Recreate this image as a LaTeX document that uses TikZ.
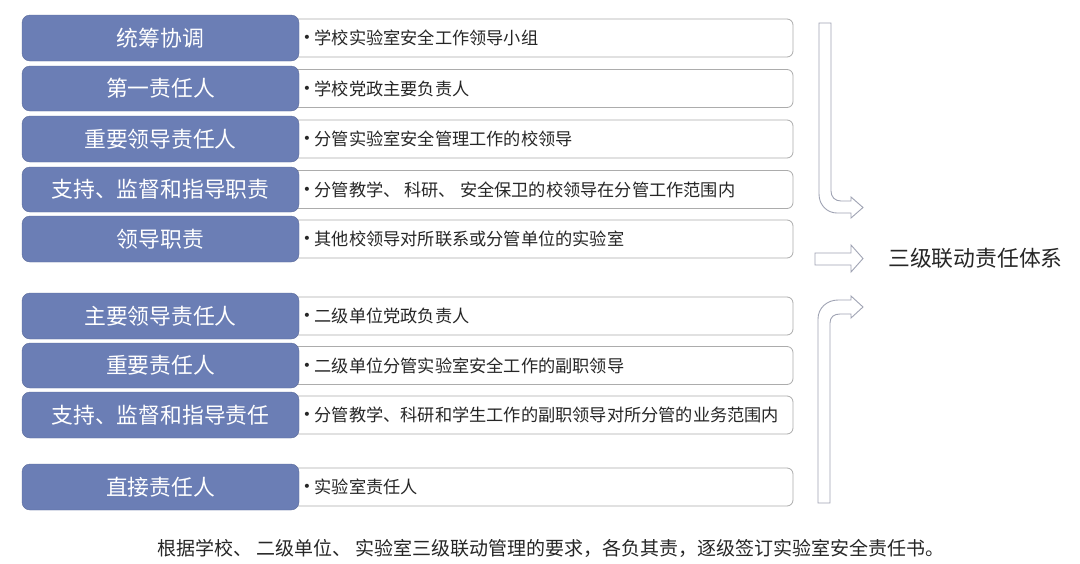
\documentclass[tikz,border=0pt]{standalone}
\usepackage{fontspec}
\setmainfont{Noto Sans CJK SC}
\newfontfamily\bulfont{DejaVu Sans}
\begin{document}
\begin{tikzpicture}[x=1pt,y=-1pt,
  bluebox/.style={fill=boxblue,draw=boxblue!85!black,line width=0.4pt,rounded corners=8pt,text=white,font=\fontsize{21.8}{21.8}\selectfont},
  whitebox/.style={fill=white,draw=gray!65,line width=0.8pt,rounded corners=6pt},
  desc/.style={anchor=west,font=\fontsize{17.2}{17.2}\selectfont,text=black!85,inner sep=0pt},
  bul/.style={font=\bulfont\fontsize{14}{14}\selectfont,text=black!85,inner sep=0pt},
  arrowshape/.style={draw=arrowgray,fill=white,line width=0.9pt,line join=miter}]
\definecolor{boxblue}{RGB}{107,126,181}
\definecolor{arrowgray}{RGB}{160,164,180}
\useasboundingbox (0,0) rectangle (1080,563);
\fill[white] (0,0) rectangle (1080,563);

\foreach \name/\top/\bot/\lab/\txt in {
  r1/15/61/统筹协调/学校实验室安全工作领导小组,
  r2/66/111/第一责任人/学校党政主要负责人,
  r3/116/162/重要领导责任人/分管实验室安全管理工作的校领导,
  r4/167/212/支持、监督和指导职责/{分管教学、\ 科研、\ 安全保卫的校领导在分管工作范围内},
  r5/216/262/领导职责/其他校领导对所联系或分管单位的实验室,
  r6/293/339/主要领导责任人/二级单位党政负责人,
  r7/343/388/重要责任人/二级单位分管实验室安全工作的副职领导,
  r8/392/438/支持、监督和指导责任/分管教学、科研和学生工作的副职领导对所分管的业务范围内,
  r9/464/510/直接责任人/实验室责任人}{
  \path[whitebox] (285,{(\top+\bot)/2-19}) rectangle (793,{(\top+\bot)/2+19});
  \node[bluebox,minimum width=277pt,minimum height={\bot-\top},inner sep=0pt] (\name) at (160.5,{(\top+\bot)/2}) {\lab};
  \node[bul] (\name b) at (307,{(\top+\bot)/2+1}) {•};
  \node[desc] (\name t) at (314.5,{(\top+\bot)/2}) {\txt};
}

% top arrow (down then right)
\draw[arrowshape] (819,23) -- (831,23) -- (831,191)
  .. controls (831,197) and (835,201) .. (841,201) -- (851,201) -- (851,197)
  -- (863,207.5) -- (851,218) -- (851,213) -- (837,213)
  .. controls (827,213) and (819,205) .. (819,194) -- cycle;

% middle arrow
\draw[arrowshape] (815,253) -- (851,253) -- (851,245) -- (863,258.5) -- (851,272) -- (851,265) -- (815,265) -- cycle;

% bottom arrow (up then right)
\draw[arrowshape] (818,503) -- (830,503) -- (830,323)
  .. controls (830,317) and (834,314) .. (840,314) -- (851,314) -- (851,318)
  -- (863,307) -- (851,296) -- (851,300) -- (838,300)
  .. controls (827,300) and (818,308) .. (818,319) -- cycle;

\node[anchor=west,font=\fontsize{21.8}{21.8}\selectfont,text=black!85,inner sep=0pt] (sys) at (888,258) {三级联动责任体系};

\node[font=\fontsize{19}{19}\selectfont,text=black!85,inner sep=0pt] (note) at (551,548) {根据学校、\ 二级单位、\ 实验室三级联动管理的要求，各负其责，逐级签订实验室安全责任书。};
\end{tikzpicture}
\end{document}
